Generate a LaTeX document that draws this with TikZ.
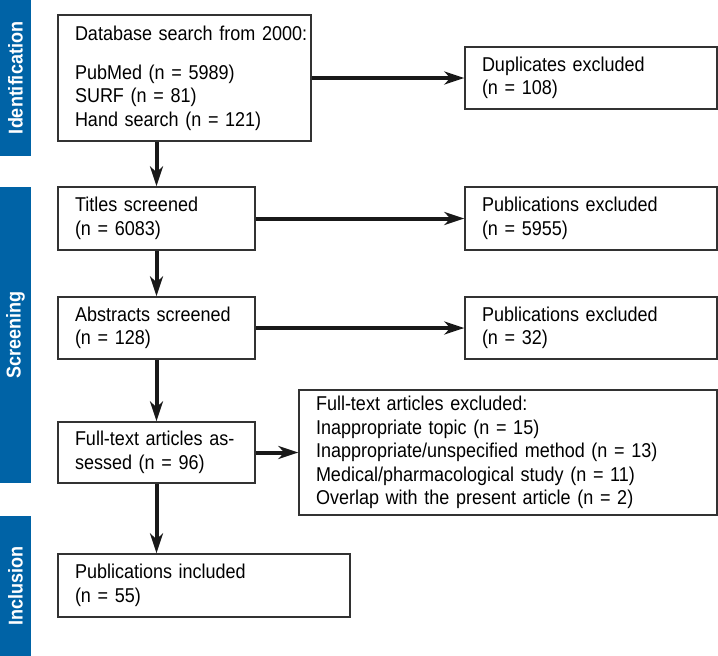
\documentclass[tikz,border=0pt]{standalone}
\usepackage{fontspec}
\setmainfont[FakeStretch=0.9]{Liberation Sans}
\usetikzlibrary{arrows.meta}
\definecolor{barblue}{RGB}{0,99,166}
\definecolor{boxline}{RGB}{50,50,50}
\definecolor{arrowcol}{RGB}{25,25,25}
\begin{document}
\begin{tikzpicture}[x=1pt,y=-1pt,
  box/.style={draw=boxline, line width=1.3pt, inner xsep=17pt, inner ysep=0pt,
    align=left, anchor=center, font=\fontsize{20}{23.4}\selectfont},
  barlabel/.style={text=white, rotate=90, font=\fontsize{20}{22}\selectfont\bfseries},
  flow/.style={draw=arrowcol, line width=4pt,
    -{Stealth[length=20pt,width=13pt,inset=6pt]}}]
\useasboundingbox (0,0) rectangle (718,656);
% side bars
\fill[barblue] (0,0) rectangle (31,156);
\fill[barblue] (0,187) rectangle (31,483);
\fill[barblue] (0,516) rectangle (31,656);
\node[barlabel] (lid) at (15.5,78) {Identification};
\node[barlabel] (lsc) at (15.5,335) {Screening};
\node[barlabel] (lin) at (15.5,586) {Inclusion};
% boxes
\node[box, text width=219pt, minimum width=253pt, minimum height=126pt] (db) at (184.5,78)
  {\rlap{Database search from 2000:}\\[15.7pt]PubMed (n = 5989)\\SURF (n = 81)\\Hand search (n = 121)};
\node[box, text width=218pt, minimum width=252pt, minimum height=62pt] (dup) at (591,78)
  {Duplicates excluded\\(n = 108)};
\node[box, text width=163pt, minimum width=197pt, minimum height=63pt] (tit) at (156.5,218.5)
  {Titles screened\\(n = 6083)};
\node[box, text width=218pt, minimum width=252pt, minimum height=63pt] (pe1) at (591,218.5)
  {Publications excluded\\(n = 5955)};
\node[box, text width=163pt, minimum width=197pt, minimum height=62pt] (abs) at (156.5,328)
  {Abstracts screened\\(n = 128)};
\node[box, text width=218pt, minimum width=252pt, minimum height=62pt] (pe2) at (591,328)
  {Publications excluded\\(n = 32)};
\node[box, text width=163pt, minimum width=197pt, minimum height=61pt] (fta) at (156.5,452.5)
  {\rlap{Full-text articles as-}\\sessed (n = 96)};
\node[box, text width=384pt, minimum width=418pt, minimum height=125pt] (fte) at (508,452.5)
  {Full-text articles excluded:\\Inappropriate topic (n = 15)\\Inappropriate/unspecified method (n = 13)\\Medical/pharmacological study (n = 11)\\Overlap with the present article (n = 2)};
\node[box, text width=258pt, minimum width=292pt, minimum height=63pt] (inc) at (204,585.5)
  {Publications included\\(n = 55)};
% connectors
\draw[flow] (db.east) -- (dup.west);
\draw[flow] (tit.east) -- (pe1.west);
\draw[flow] (abs.east) -- (pe2.west);
\draw[flow] (fta.east) -- (fte.west);
\draw[flow] (tit.north |- db.south) -- (tit.north);
\draw[flow] (tit.south) -- (abs.north);
\draw[flow] (abs.south) -- (fta.north);
\draw[flow] (fta.south) -- (fta.south |- inc.north);
\end{tikzpicture}
\end{document}
